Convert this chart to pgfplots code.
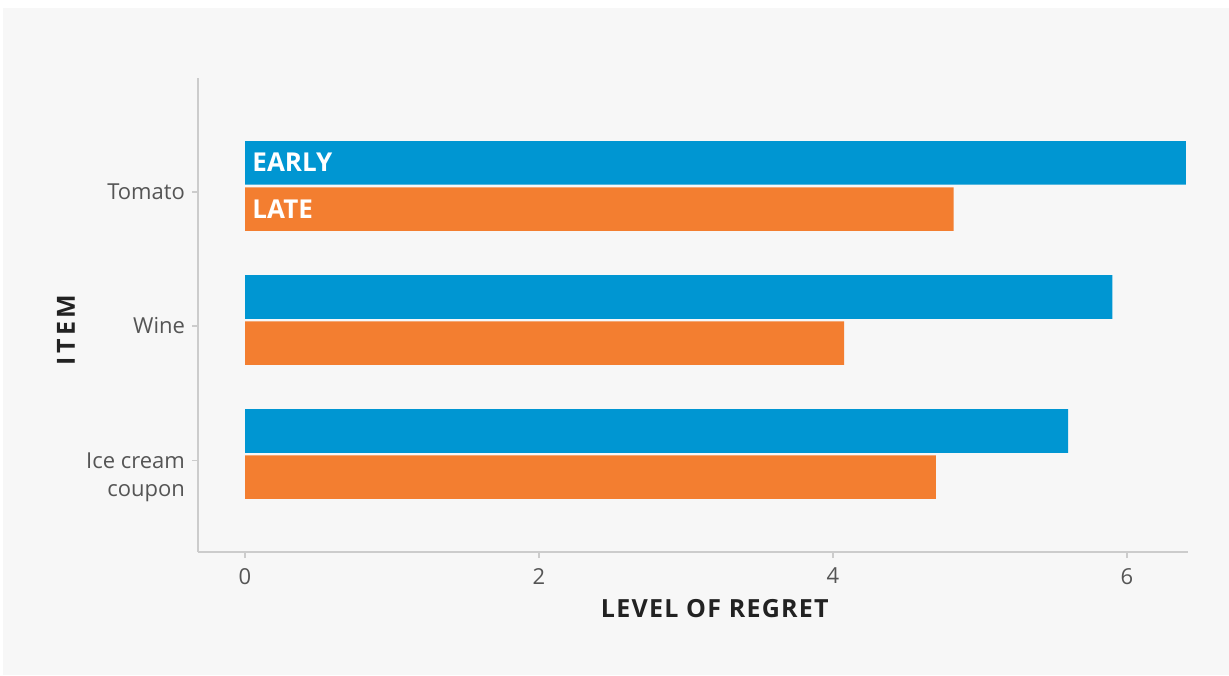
\documentclass[border=0pt]{standalone}
\usepackage{fontspec}
\setmainfont{Open Sans}
\usepackage{pgfplots}
\pgfplotsset{compat=1.18}
\definecolor{bg}{HTML}{F7F7F7}
\definecolor{eblue}{HTML}{0096D2}
\definecolor{lorange}{HTML}{F37E30}
\definecolor{axgray}{HTML}{CCCCCC}
\definecolor{tickgray}{HTML}{555555}
\definecolor{labdark}{HTML}{222222}
\begin{document}
\begin{tikzpicture}
\useasboundingbox (0,0) rectangle (614.5pt,337.5pt);
\fill[white] (0,0) rectangle (614.5pt,337.5pt);
\fill[bg] (1.5pt,0) rectangle (614.5pt,333.5pt);
\begin{axis}[
  at={(99pt,61.5pt)}, anchor=south west,
  scale only axis, width=495pt, height=237pt,
  xmin=-0.32, xmax=6.415, ymin=-0.731, ymax=2.806,
  xbar, bar width=0.325,
  axis x line*=bottom, axis y line*=left,
  axis line style={axgray, line width=0.8pt, -},
  xtick={0,2,4,6}, ytick={-0.05,0.955,1.955},
  yticklabels={{\begin{tabular}[t]{@{}r@{}}Ice cream\\coupon\end{tabular}},Wine,Tomato},
  yticklabel style={anchor=base east, yshift=-3.9pt, font=\fontsize{11}{14}\selectfont, text=tickgray},
  xticklabel style={yshift=-1.5pt, font=\fontsize{11}{13}\selectfont, text=tickgray},
  /pgf/number format/assume math mode=true,
  tick style={axgray, line width=0.6pt},
  tick align=outside, major tick length=3pt,
  xlabel={LEVEL OF REGRET}, ylabel={ITEM},
  xlabel style={at={(rel axis cs:0.522,-0.120)}, anchor=center, text=labdark,
    font=\bfseries\fontsize{12.5}{14}\selectfont\addfontfeature{LetterSpace=5}},
  ylabel style={at={(rel axis cs:-0.1333,0.468)}, anchor=center, text=labdark,
    font=\bfseries\fontsize{12.5}{14}\selectfont\addfontfeature{LetterSpace=14}},
]
\addplot[fill=eblue, draw=none, bar shift=0.172] coordinates {(5.60,0) (5.90,1) (6.40,2)};
\addplot[fill=lorange, draw=none, bar shift=-0.172] coordinates {(4.70,0) (4.075,1) (4.82,2)};
\node[anchor=west, inner sep=0pt, text=white, font=\bfseries\fontsize{13}{15}\selectfont] at (axis cs:0.048,2.179) {EARLY};
\node[anchor=west, inner sep=0pt, text=white, font=\bfseries\fontsize{13}{15}\selectfont] at (axis cs:0.048,1.828) {LATE};
\end{axis}
\end{tikzpicture}
\end{document}
